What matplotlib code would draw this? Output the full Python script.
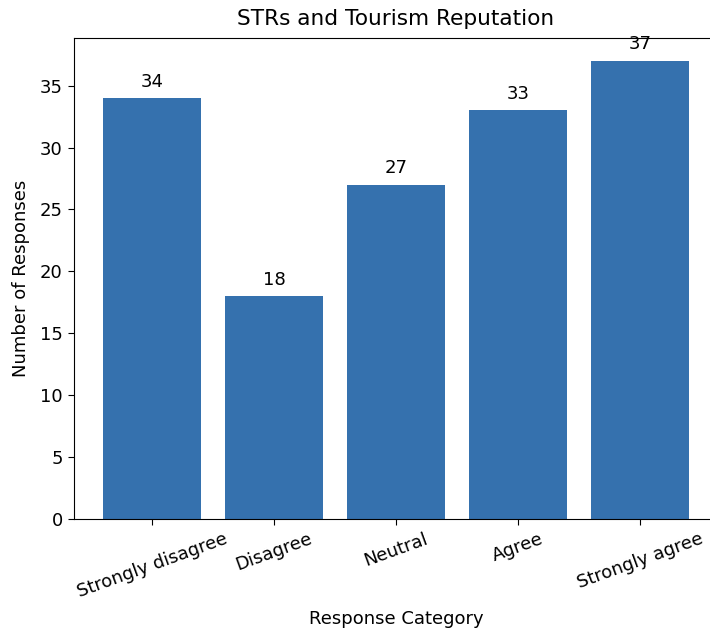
import matplotlib
matplotlib.use("Agg")
import matplotlib.pyplot as plt

categories = ["Strongly disagree", "Disagree", "Neutral", "Agree", "Strongly agree"]
values = [34, 18, 27, 33, 37]

fig, ax = plt.subplots(figsize=(7.1, 6.32), dpi=100)
bars = ax.bar(categories, values, color="#3571ae")
for b, v in zip(bars, values):
    ax.text(b.get_x() + b.get_width() / 2, v + 0.6, str(v), ha="center", va="bottom", fontsize=13)
ax.set_title("STRs and Tourism Reputation", fontsize=15.6, pad=9.5)
ax.set_xlabel("Response Category", fontsize=13, labelpad=6)
ax.set_ylabel("Number of Responses", fontsize=13, labelpad=7)
ax.tick_params(labelsize=13, length=4.5)
plt.setp(ax.get_xticklabels(), rotation=20)
fig.subplots_adjust(left=0.1042, right=1.0113, top=0.9399, bottom=0.1788)
fig.savefig("out.png")
